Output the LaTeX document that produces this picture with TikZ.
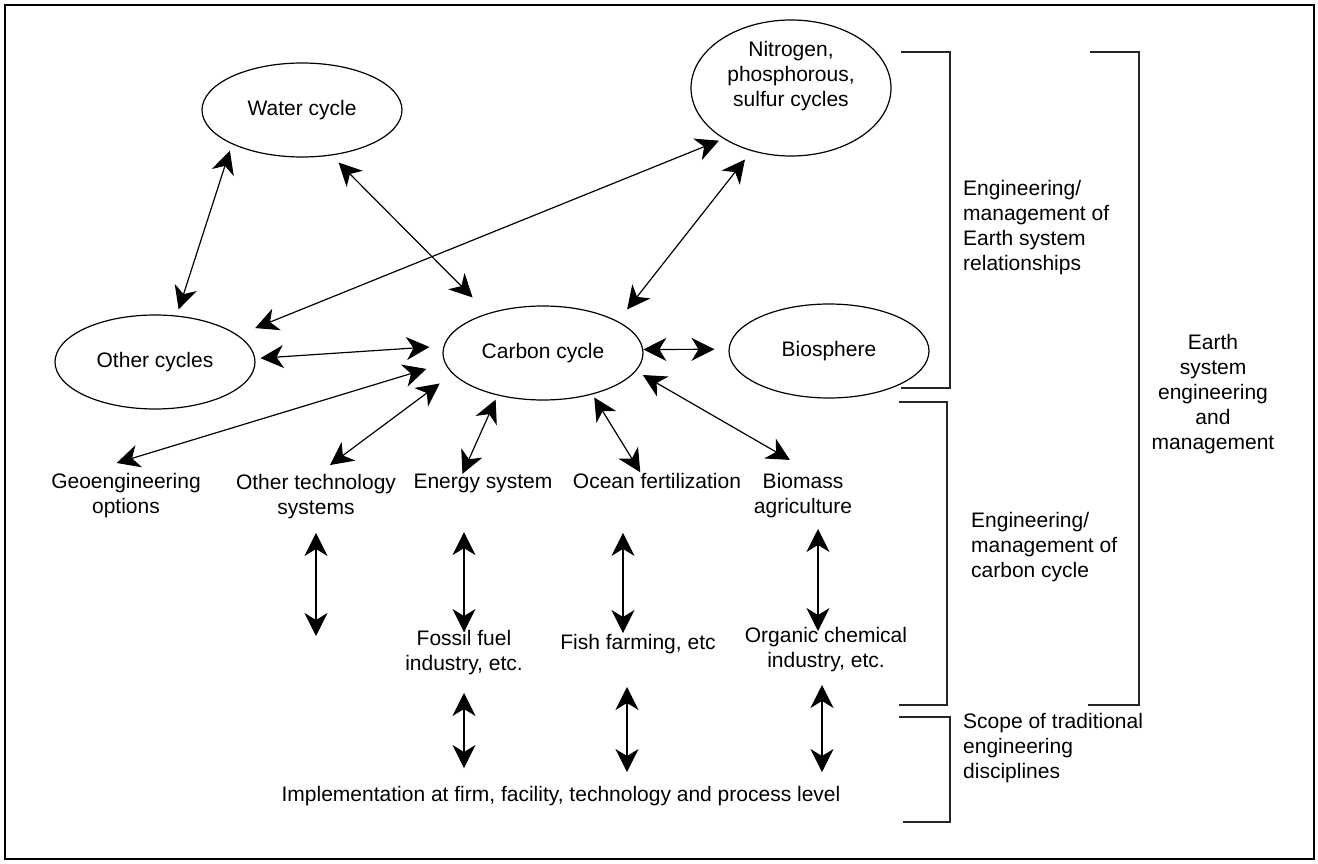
\documentclass[tikz,border=0pt]{standalone}
\usepackage{fontspec}
\setmainfont{Liberation Sans}
\usetikzlibrary{shapes.geometric,arrows.meta}
\begin{document}
\begin{tikzpicture}[x=1pt,y=-1pt,
  every node/.style={font=\fontsize{21}{25}\selectfont},
  cyc/.style={draw, ellipse, align=center, line width=1.2pt, minimum width=200pt, minimum height=94pt, inner sep=0pt},
  lbl/.style={inner sep=0pt, align=center},
  side/.style={inner sep=0pt, align=left, anchor=west},
  arr/.style={line width=1.2pt, {Stealth[length=23pt,width=23pt,inset=7pt]}-{Stealth[length=23pt,width=23pt,inset=7pt]}},
  brk/.style={line width=1.3pt, draw=black!85},
  frame/.style={line width=2.5pt, draw=black}
]
\useasboundingbox (0,0) rectangle (1318,864);
\draw[frame] (5,5) rectangle (1314,859);

% cycles
\node[cyc] (water) at (302,110) {Water cycle};
\node[cyc, minimum height=136pt] (nitro) at (791,88) {Nitrogen,\\phosphorous,\\sulfur cycles\\[4pt]\mbox{}};
\node[cyc] (other) at (155,362) {Other cycles};
\node[cyc] (carbon) at (543,353) {Carbon cycle};
\node[cyc] (bio) at (829,351) {Biosphere};

% text nodes
\node[lbl] (geo) at (126,495.5) {Geoengineering\\options};
\node[lbl] (othertech) at (316,496.5) {Other technology\\systems};
\node[lbl] (energy) at (483,483.5) {Energy system};
\node[lbl] (ocean) at (657,481) {Ocean fertilization};
\node[lbl] (biomass) at (803,495.5) {Biomass\\agriculture};
\node[lbl] (fossil) at (464,652.5) {Fossil fuel\\industry, etc.};
\node[lbl] (fish) at (638,644) {Fish farming, etc};
\node[lbl] (organic) at (826,650) {Organic chemical\\industry, etc.};
\node[lbl] (impl) at (561,796) {Implementation at firm, facility, technology and process level};

% side labels
\node[side] (relt) at (963,228) {Engineering/\\management of\\Earth system\\relationships};
\node[side] (cct) at (971,547) {Engineering/\\management of\\carbon cycle};
\node[side] (scope) at (963,748) {Scope of traditional\\engineering\\disciplines};
\node[lbl] (esem) at (1213,394) {Earth\\system\\engineering\\and\\management};

% brackets
\draw[brk] (901,52) -- (950,52) -- (950,388) -- (901,388);
\draw[brk] (899,402) -- (947,402) -- (947,705) -- (899,705);
\draw[brk] (899,717) -- (950,717) -- (950,822) -- (903,822);
\draw[brk] (1090,52) -- (1139,52) -- (1139,705) -- (1088,705);

% connectors among cycles
\draw[arr, shorten <=6.8pt, shorten >=6.4pt] (water.206) -- (other.65);
\draw[arr, shorten <=10pt, shorten >=22pt] (water.303) -- (carbon.144);
\draw[arr, shorten <=4.9pt, shorten >=18.6pt] (nitro.217) -- (other.18);
\draw[arr, shorten <=10.7pt, shorten >=15pt] (nitro.238) -- (carbon.23);
\draw[arr, shorten <=5.2pt, shorten >=14.1pt] (other.2) -- (carbon.176);
\draw[arr, shorten >=14pt] (carbon.2) -- (bio.179);

% carbon to systems
\draw[arr, shorten <=19.3pt, shorten >=34.5pt] (carbon.186) -- (geo.152);
\draw[arr, shorten <=16.1pt, shorten >=15pt] (carbon.193) -- (othertech.85);
\draw[arr, shorten <=4.5pt] (carbon.223) -- (energy.155);
\draw[arr, shorten <=3.5pt, shorten >=1pt] (carbon.320) -- (ocean.154);
\draw[arr, shorten <=7.8pt, shorten >=26.1pt] (carbon.349) -- (biomass.67);

% vertical links
\coordinate (otend) at (316,636);
\path ([xshift=-15pt]fish.north) coordinate (fishN)
      ([xshift=-11pt]fish.south) coordinate (fishS)
      ([xshift=-8pt]organic.north) coordinate (orgN)
      ([xshift=-4pt]organic.south) coordinate (orgS);
\draw[arr, shorten <=14pt] (othertech.south) -- (otend);
\draw[arr, shorten <=39pt, shorten >=-2pt] (fossil.north |- energy.south) -- (fossil.north);
\draw[arr, shorten <=18pt, shorten >=18pt] (fossil.south) -- (fossil.south |- impl.north);
\draw[arr, shorten <=44pt, shorten >=1pt] (fishN |- ocean.south) -- (fishN);
\draw[arr, shorten <=33pt, shorten >=14pt] (fishS) -- (fishS |- impl.north);
\draw[arr, shorten <=11pt, shorten >=-3.5pt] (orgN |- biomass.south) -- (orgN);
\draw[arr, shorten <=12.5pt, shorten >=14pt] (orgS) -- (orgS |- impl.north);
\end{tikzpicture}
\end{document}
